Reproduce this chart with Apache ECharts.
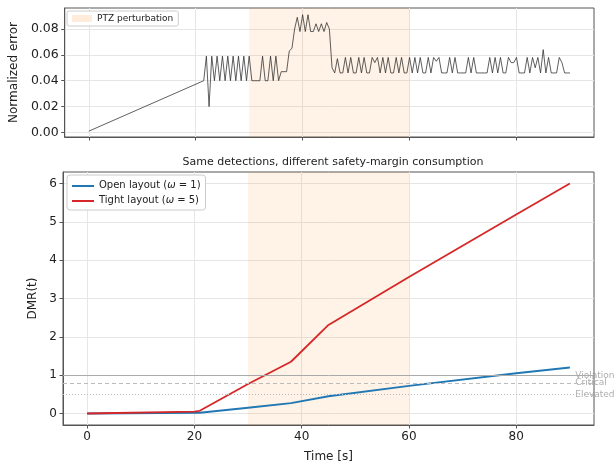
<!DOCTYPE html>
<html>
<head>
<meta charset="utf-8">
<script src="https://cdn.jsdelivr.net/npm/echarts@6/dist/echarts.min.js"></script>
<style>html,body{margin:0;padding:0;background:#fff}#c{width:614px;height:468px}</style>
</head>
<body>
<div id="c"></div>
<script>
// ---- Top panel: normalized error ----
const errTime = [0,
 21.5,22,22.5,23,23.5,24,24.5,25,25.5,26,26.5,27,27.5,28,28.5,29,29.5,30,30.5,31,
 31.5,32,32.5,33,33.5,34,34.5,35,35.5,36,36.5,37,37.5,38,38.5,39,39.5,40,40.5,41,
 41.5,42,42.5,43,43.5,44,44.5,45,45.5,46,46.5,47,47.5,48,48.5,49,49.5,50,50.5,51,
 51.5,52,52.5,53,53.5,54,54.5,55,55.5,56,56.5,57,57.5,58,58.5,59,59.5,60,60.5,61,
 61.5,62,62.5,63,63.5,64,64.5,65,65.5,66,66.5,67,67.5,68,68.5,69,69.5,70,70.5,71,
 71.5,72,72.5,73,73.5,74,74.5,75,75.5,76,76.5,77,77.5,78,78.5,79,79.5,80,80.5,81,
 81.5,82,82.5,83,83.5,84,84.5,85,85.5,86,86.5,87,87.5,88,88.5,89,89.5,90];
const errValue = [0.001,
 0.040,0.059,0.020,0.059,0.040,0.059,0.040,0.059,0.040,0.059,0.040,0.059,0.040,0.059,0.040,0.059,0.040,0.059,0.040,0.040,
 0.040,0.040,0.059,0.040,0.040,0.059,0.040,0.059,0.040,0.047,0.047,0.047,0.063,0.065,0.080,0.089,0.078,0.091,0.078,0.091,
 0.078,0.078,0.084,0.078,0.084,0.078,0.085,0.080,0.050,0.046,0.057,0.046,0.046,0.058,0.046,0.058,0.046,0.046,0.058,0.046,
 0.058,0.046,0.046,0.058,0.054,0.058,0.046,0.058,0.046,0.058,0.046,0.046,0.058,0.046,0.058,0.046,0.046,0.058,0.046,0.058,
 0.046,0.058,0.046,0.046,0.058,0.046,0.058,0.055,0.058,0.046,0.046,0.046,0.058,0.046,0.058,0.046,0.046,0.046,0.046,0.058,
 0.046,0.058,0.046,0.046,0.046,0.046,0.046,0.058,0.046,0.058,0.046,0.058,0.046,0.046,0.058,0.054,0.054,0.058,0.046,0.046,
 0.046,0.058,0.046,0.058,0.050,0.058,0.046,0.064,0.046,0.058,0.046,0.046,0.046,0.058,0.054,0.046,0.046,0.046];
const errTicks = [0, 0.02, 0.04, 0.06, 0.08];

// ---- Bottom panel: DMR ----
const openTime = [0, 21, 30, 38, 45, 60, 80, 90];
const openDMR  = [0, 0.02, 0.15, 0.27, 0.45, 0.72, 1.05, 1.2];
const tightTime = [0, 20, 21, 30, 38, 45, 60, 80, 90];
const tightDMR  = [0, 0.05, 0.07, 0.77, 1.35, 2.31, 3.56, 5.19, 6.0];
const dmrTicks = [0, 1, 2, 3, 4, 5, 6];
const timeTicks = [0, 20, 40, 60, 80];
const perturbation = [30, 60];
const thresholdNames = ['Violation', 'Critical', 'Elevated'];
const thresholdValues = [1.0, 0.8, 0.5];

const zip = (a, b) => a.map((v, i) => [v, b[i]]);
const FONT = 'DejaVu Sans';
const frame = '#555';
const gridLine = { show: true, lineStyle: { color: '#e6e6e6', width: 1 } };
const shadeColor = 'rgba(255,127,14,0.1)';

function xAxisCfg(idx, showLabels) {
  return {
    type: 'value', gridIndex: idx, min: -4.5, max: 94.5,
    axisLine: { show: true, onZero: false, lineStyle: { color: frame } },
    axisTick: { show: true, length: 3.5, lineStyle: { color: frame }, customValues: timeTicks },
    axisLabel: { show: showLabels, customValues: timeTicks, color: '#222', fontFamily: FONT, fontSize: 12, margin: 6 },
    splitLine: gridLine
  };
}

const chart = echarts.init(document.getElementById('c'), null, { renderer: 'canvas' });
chart.setOption({
  animation: false,
  textStyle: { fontFamily: FONT },
  title: {
    text: 'Same detections, different safety-margin consumption',
    left: 328, top: 152, textAlign: 'center',
    textStyle: { fontFamily: FONT, fontSize: 11, fontWeight: 'normal', color: '#222' }
  },
  grid: [
    { left: 63, top: 8, width: 531, height: 129, show: true, borderColor: frame, borderWidth: 1 },
    { left: 63, top: 172, width: 531, height: 256, show: true, borderColor: frame, borderWidth: 1 }
  ],
  legend: [
    {
      data: ['PTZ perturbation'], left: 67, top: 11, icon: 'rect', itemWidth: 20, itemHeight: 7,
      backgroundColor: '#fff', borderColor: '#ccc', borderWidth: 1, borderRadius: 2, padding: [3, 5],
      textStyle: { fontFamily: FONT, fontSize: 9, color: '#222' }
    },
    {
      data: ['Open layout (ω = 1)', 'Tight layout (ω = 5)'], left: 67, top: 175, orient: 'vertical',
      icon: 'rect', itemWidth: 22, itemHeight: 2, itemGap: 5,
      backgroundColor: '#fff', borderColor: '#ccc', borderWidth: 1, borderRadius: 3, padding: [5, 5],
      formatter: n => n.replace('ω', '{i|ω}'),
      textStyle: { fontFamily: FONT, fontSize: 10, color: '#222', height: 12,
        rich: { i: { fontFamily: FONT, fontSize: 10, fontStyle: 'italic', color: '#222' } } }
    }
  ],
  xAxis: [
    xAxisCfg(0, false),
    Object.assign(xAxisCfg(1, true), {
      name: 'Time [s]', nameLocation: 'middle', nameGap: 26,
      nameTextStyle: { fontFamily: FONT, fontSize: 12, color: '#222' }
    })
  ],
  yAxis: [
    {
      type: 'value', gridIndex: 0, min: -0.0035, max: 0.0962,
      name: 'Normalized error', nameLocation: 'middle', nameGap: 36,
      nameTextStyle: { fontFamily: FONT, fontSize: 12, color: '#222' },
      axisLine: { show: true, onZero: false, lineStyle: { color: frame } },
      axisTick: { show: true, length: 3.5, lineStyle: { color: frame }, customValues: errTicks },
      axisLabel: { customValues: errTicks, color: '#222', fontFamily: FONT, fontSize: 12.5, margin: 6,
        formatter: v => v.toFixed(2) },
      splitLine: gridLine
    },
    {
      type: 'value', gridIndex: 1, min: -0.3, max: 6.3,
      name: 'DMR(t)', nameLocation: 'middle', nameGap: 20,
      nameTextStyle: { fontFamily: FONT, fontSize: 12, color: '#222' },
      axisLine: { show: true, onZero: false, lineStyle: { color: frame } },
      axisTick: { show: true, length: 3.5, lineStyle: { color: frame }, customValues: dmrTicks },
      axisLabel: { customValues: dmrTicks, color: '#222', fontFamily: FONT, fontSize: 12, margin: 6 },
      splitLine: gridLine
    }
  ],
  series: [
    {
      name: 'PTZ perturbation', type: 'line', xAxisIndex: 0, yAxisIndex: 0, data: [],
      itemStyle: { color: 'rgba(255,127,14,0.15)' }, symbol: 'none', silent: true,
      markArea: { silent: true, itemStyle: { color: shadeColor }, data: [[{ xAxis: perturbation[0] }, { xAxis: perturbation[1] }]] }
    },
    {
      name: 'Normalized error', type: 'line', xAxisIndex: 0, yAxisIndex: 0,
      data: zip(errTime, errValue), symbol: 'none', z: 3,
      lineStyle: { color: 'rgba(45,45,45,0.85)', width: 0.9 }
    },
    {
      name: 'shade2', type: 'line', xAxisIndex: 1, yAxisIndex: 1, data: [], symbol: 'none', silent: true,
      markArea: { silent: true, itemStyle: { color: shadeColor }, data: [[{ xAxis: perturbation[0] }, { xAxis: perturbation[1] }]] },
      markLine: {
        silent: true, symbol: 'none', label: { show: false },
        data: [
          { yAxis: thresholdValues[0], lineStyle: { color: '#aaa', type: 'solid', width: 1 } },
          { yAxis: thresholdValues[1], lineStyle: { color: '#bbb', type: [4, 3], width: 1 } },
          { yAxis: thresholdValues[2], lineStyle: { color: '#bbb', type: [1, 2], width: 1 } }
        ]
      }
    },
    {
      name: 'thresholdLabels', type: 'scatter', xAxisIndex: 1, yAxisIndex: 1, symbolSize: 0, silent: true,
      data: thresholdNames.map((n, i) => ({ value: [91, thresholdValues[i]], name: n })),
      label: { show: true, position: 'right', distance: 0, formatter: p => p.name,
        color: '#999', fontFamily: FONT, fontSize: 9 }
    },
    {
      name: 'Open layout (ω = 1)', type: 'line', xAxisIndex: 1, yAxisIndex: 1,
      data: zip(openTime, openDMR), symbol: 'none', z: 4,
      itemStyle: { color: '#1f77b4' }, lineStyle: { color: '#1f77b4', width: 1.8 }
    },
    {
      name: 'Tight layout (ω = 5)', type: 'line', xAxisIndex: 1, yAxisIndex: 1,
      data: zip(tightTime, tightDMR), symbol: 'none', z: 4,
      itemStyle: { color: '#d62728' }, lineStyle: { color: '#d62728', width: 1.8 }
    }
  ]
});
</script>
</body>
</html>
